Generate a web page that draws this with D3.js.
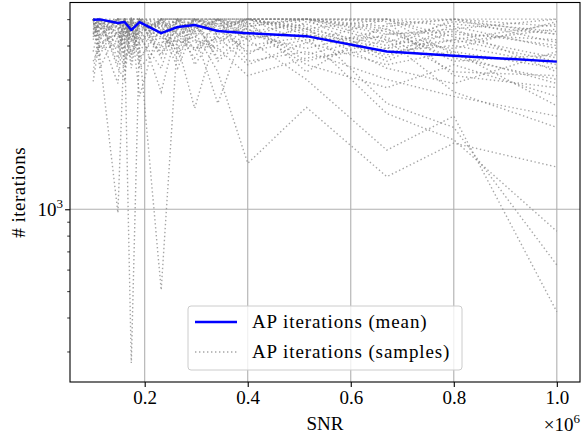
<!DOCTYPE html>
<html>
<head>
<meta charset="utf-8">
<script src="https://cdn.jsdelivr.net/npm/d3@7"></script>
<style>
  body { margin: 0; background: #fff; }
  svg text { font-family: "Liberation Serif", "Times New Roman", Times, "DejaVu Serif", "Noto Serif", serif; fill: #000; }
</style>
</head>
<body>
<div id="chart"></div>
<script>
// SNR values (x) and mean iteration counts
const snr = [1.0e5, 1.13e5, 1.48e5, 1.61e5, 1.74e5, 1.9e5, 2.32e5, 2.64e5, 2.97e5, 3.42e5, 4.0e5, 5.14e5, 6.7e5, 8.0e5, 1.0e6];
const meanIter = [4970, 4990, 4840, 4880, 4560, 4880, 4440, 4680, 4760, 4520, 4440, 4330, 3800, 3670, 3490];

// individual samples (one row per run)
const samples = [
  [5000,5000,5000,5000,5000,5000,5000,5000,5000,5000,5000,5000,5000,5000,5000],
  [2950,4300,5000,5000,4700,5000,5000,5000,5000,5000,5000,5000,5000,4300,3600],
  [5000,3600,970,4500,5000,5000,4600,5000,5000,5000,5000,4500,3900,5000,4700],
  [4700,5000,4800,4300,272,4400,5000,5000,5000,4700,5000,5000,5000,3700,2900],
  [5000,4500,4100,5000,4600,3900,505,4300,5000,5000,4800,5000,4400,4500,4000],
  [5000,3900,5000,4700,4200,5000,4600,4000,2350,4600,5000,5000,3600,4800,4400],
  [4400,5000,3400,5000,5000,3500,5000,4800,4400,2450,5000,4600,3300,2900,3800],
  [5000,4800,4500,3800,5000,5000,4000,5000,4500,3200,1476,2370,1318,1750,1430],
  [4900,4200,5000,5000,3700,4600,4800,3500,5000,4800,4200,3000,1650,2200,420],
  [5000,5000,4200,3200,5000,4300,3300,5000,4600,5000,5000,4700,2450,2000,624],
  [4800,4700,5000,4900,4400,5000,4800,4600,5000,4300,4000,4300,2250,1800,830],
  [5000,3300,4600,5000,4800,4000,5000,5000,3800,5000,3500,3800,3000,2600,2200],
  [4600,5000,3900,4400,5000,4700,4300,3900,5000,4400,4600,3400,2800,3400,2600],
  [5000,4600,4700,3600,3900,5000,3700,5000,4200,3900,3100,3600,3900,4200,4800],
  [3800,4900,5000,4600,5000,4200,5000,4400,3600,5000,4400,3900,4600,3800,3300],
  [5000,4400,2900,5000,4100,4800,4500,5000,4800,3600,4500,4800,3500,4600,5000],
  [4300,5000,4400,4100,4800,3300,4100,4200,5000,4600,3800,4200,4300,3200,3100],
  [5000,5000,3300,3000,5000,4600,2700,4700,4100,4200,4900,3200,4800,5000,4400],
  [4500,3900,4000,5000,3300,5000,4400,3800,4900,5000,4300,4400,3700,4200,3500],
  [5000,4800,5000,4400,4900,2600,5000,4500,3900,4000,5000,5000,4200,3900,4900],
  [4200,5000,4800,5000,4500,5000,4900,4300,5000,4800,5000,4600,5000,4700,3900],
  [5000,4600,5000,4300,5000,4500,5000,5000,4500,5000,4700,5000,4500,3600,3000],
  [3500,4000,4500,5000,4200,4800,3900,4600,5000,4500,5000,4100,5000,4100,4600],
  [5000,5000,4700,5000,3700,5000,4200,5000,4700,3800,4700,5000,4600,3500,3700],
  [4600,4400,5000,3900,5000,4100,5000,4100,4300,5000,4200,4600,4000,4400,4200],
  [5000,5000,4300,4800,4600,5000,3600,5000,5000,4700,5000,5000,4900,3100,2800],
  [3200,4700,3800,5000,5000,4400,5000,3700,4600,5000,3700,4900,4100,4900,4500],
  [5000,4300,5000,4600,3500,4900,4700,5000,3400,4500,5000,4400,3800,4000,3400],
  [4900,5000,4600,5000,4700,3800,5000,4400,5000,3500,4300,5000,4700,5000,4100],
  [5000,4100,4400,4200,5000,5000,4400,4900,4400,5000,4600,3700,4400,4600,3200],
  [4400,4800,3600,4700,4300,4500,3800,4200,3900,4300,3400,4100,3400,3800,2400],
  [5000,3700,4900,3400,4800,3600,4600,3300,4700,4100,4800,3500,4200,2700,2000]
];

const xTicks = [2e5, 4e5, 6e5, 8e5, 1e6];
const yMinorTicks = [300, 400, 500, 600, 700, 800, 900, 2000, 3000, 4000, 5000];
const yMajorTicks = [1000];

const W = 581, H = 439;
const margin = {top: 2.5, right: 1, bottom: 57, left: 70};
const width = W - margin.left - margin.right;
const height = H - margin.top - margin.bottom;

const svg = d3.select("#chart").append("svg")
  .attr("width", W)
  .attr("height", H);

const g = svg.append("g")
  .attr("transform", "translate(" + margin.left + "," + margin.top + ")");

const x = d3.scaleLinear()
  .domain([0.055e6, 1.045e6])
  .range([0, width]);

const y = d3.scaleLog()
  .domain([231.7, 5757])
  .range([height, 0]);

g.append("defs").append("clipPath")
  .attr("id", "clip")
  .append("rect")
  .attr("width", width)
  .attr("height", height);

// grid
g.selectAll(".vgrid")
  .data(xTicks)
  .enter().append("line")
  .attr("class", "vgrid")
  .attr("x1", d => x(d)).attr("x2", d => x(d))
  .attr("y1", 0).attr("y2", height)
  .attr("stroke", "#b0b0b0")
  .attr("stroke-width", 1.1);

g.selectAll(".hgrid")
  .data(yMajorTicks)
  .enter().append("line")
  .attr("class", "hgrid")
  .attr("x1", 0).attr("x2", width)
  .attr("y1", d => y(d)).attr("y2", d => y(d))
  .attr("stroke", "#b0b0b0")
  .attr("stroke-width", 1.1);

const line = d3.line()
  .x((d, i) => x(snr[i]))
  .y(d => y(d));

const plot = g.append("g").attr("clip-path", "url(#clip)");

// samples
plot.selectAll(".sample")
  .data(samples)
  .enter().append("path")
  .attr("class", "sample")
  .attr("d", line)
  .attr("fill", "none")
  .attr("stroke", "#808080")
  .attr("stroke-opacity", 0.7)
  .attr("stroke-width", 1.4)
  .attr("stroke-dasharray", "1.4,2.6");

// mean
plot.append("path")
  .datum(meanIter)
  .attr("d", line)
  .attr("fill", "none")
  .attr("stroke", "#0000ff")
  .attr("stroke-width", 2.5)
  .attr("stroke-linejoin", "round");

// x axis
const xAxis = d3.axisBottom(x)
  .tickValues(xTicks)
  .tickSize(4.9)
  .tickPadding(4)
  .tickFormat(d => (d / 1e6).toFixed(1));

const gx = g.append("g")
  .attr("transform", "translate(0," + height + ")")
  .call(xAxis)
  .attr("font-family", null)
  .attr("font-size", 19);
gx.select(".domain").remove();
gx.selectAll("line").attr("stroke", "#000").attr("stroke-width", 1.1);

// y axis: minor ticks
const yMinor = d3.axisLeft(y)
  .tickValues(yMinorTicks)
  .tickSize(2.8)
  .tickFormat("");
const gyMinor = g.append("g").call(yMinor);
gyMinor.select(".domain").remove();
gyMinor.selectAll("line").attr("stroke", "#000").attr("stroke-width", 0.8);

const yMajor = d3.axisLeft(y)
  .tickValues(yMajorTicks)
  .tickSize(4.9)
  .tickFormat("");
const gyMajor = g.append("g").call(yMajor);
gyMajor.select(".domain").remove();
gyMajor.selectAll("line").attr("stroke", "#000").attr("stroke-width", 1.1);

// 10^3 label
const lab = g.append("text")
  .attr("x", -7)
  .attr("y", y(1000) + 6.5)
  .attr("text-anchor", "end")
  .attr("font-size", "19px");
lab.append("tspan").text("10");
lab.append("tspan").attr("font-size", "13px").attr("dy", -8).text("3");

// frame
g.append("rect")
  .attr("width", width)
  .attr("height", height)
  .attr("fill", "none")
  .attr("stroke", "#000")
  .attr("stroke-width", 1.1);

// axis labels
svg.append("text")
  .attr("x", margin.left + width / 2)
  .attr("y", 430)
  .attr("text-anchor", "middle")
  .attr("font-size", "19px")
  .text("SNR");

const off = svg.append("text")
  .attr("x", 580)
  .attr("y", 431)
  .attr("text-anchor", "end")
  .attr("font-size", "19px");
off.append("tspan").text("×10");
off.append("tspan").attr("font-size", "13px").attr("dy", -8).text("6");

svg.append("text")
  .attr("transform", "translate(25," + (margin.top + height / 2) + ") rotate(-90)")
  .attr("text-anchor", "middle")
  .attr("font-size", "19px")
  .attr("letter-spacing", "0.5px")
  .text("# iterations");

// legend
const leg = svg.append("g").attr("transform", "translate(188,306)");
leg.append("rect")
  .attr("width", 274)
  .attr("height", 64)
  .attr("rx", 3)
  .attr("fill", "#fff")
  .attr("fill-opacity", 0.8)
  .attr("stroke", "#cccccc")
  .attr("stroke-width", 1);

const legItems = [
  {label: "AP iterations (mean)", color: "#0000ff", width: 2.5, dash: null, opacity: 1},
  {label: "AP iterations (samples)", color: "#808080", width: 1.4, dash: "1.4,2.6", opacity: 0.7}
];

legItems.forEach((it, i) => {
  const yy = 16 + i * 30;
  leg.append("line")
    .attr("x1", 7).attr("x2", 49)
    .attr("y1", yy).attr("y2", yy)
    .attr("stroke", it.color)
    .attr("stroke-width", it.width)
    .attr("stroke-opacity", it.opacity)
    .attr("stroke-dasharray", it.dash);
  leg.append("text")
    .attr("x", 64)
    .attr("y", yy + 6)
    .attr("font-size", "19px")
    .attr("letter-spacing", "0.9px")
    .text(it.label);
});
</script>
</body>
</html>
